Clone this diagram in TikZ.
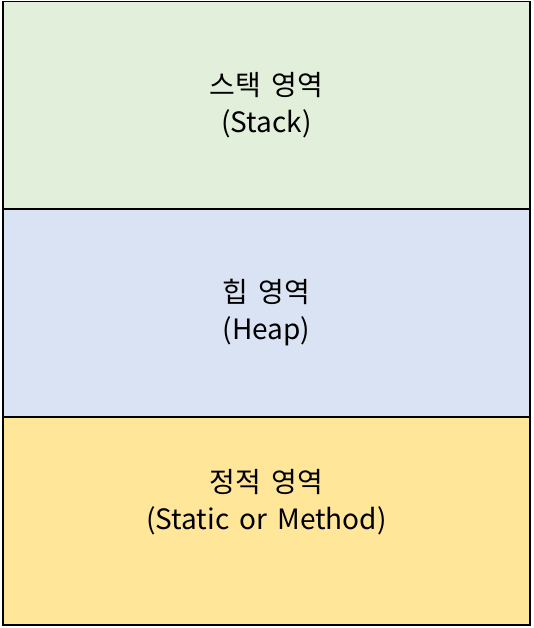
\documentclass[tikz,border=0pt]{standalone}
\usepackage{fontspec}
\setmainfont{Noto Sans CJK KR}[WordSpace=1.6]
\usetikzlibrary{positioning}
\definecolor{stackgreen}{HTML}{E2EFDA}
\definecolor{heapblue}{HTML}{DAE3F3}
\definecolor{staticyellow}{HTML}{FFE699}

\begin{document}
\begin{tikzpicture}[
  x=1pt, y=1pt,
  area/.style = {
    draw, line width=1.5pt,
    align=center,
    inner sep=0pt,
    minimum width=527pt,
    minimum height=208pt,
    font=\fontsize{28}{37}\selectfont
  }
]

% ---- canvas ----
\useasboundingbox (0,0) rectangle (533,-628);

% ---- memory areas ----
\node[area, fill=stackgreen] (stack) at (266.5,-105.5) {스택 영역\\(Stack)};
\node[area, fill=heapblue] (heap) at (266.5,-313) {힙 영역\\(Heap)};
\node[area, fill=staticyellow] (static) at (266.5,-521) {};
\node[font=\fontsize{28}{37}\selectfont, align=center] (statictxt) at ([yshift=18.5pt]static.center) {정적 영역\\(Static or Method)};

\end{tikzpicture}
\end{document}
